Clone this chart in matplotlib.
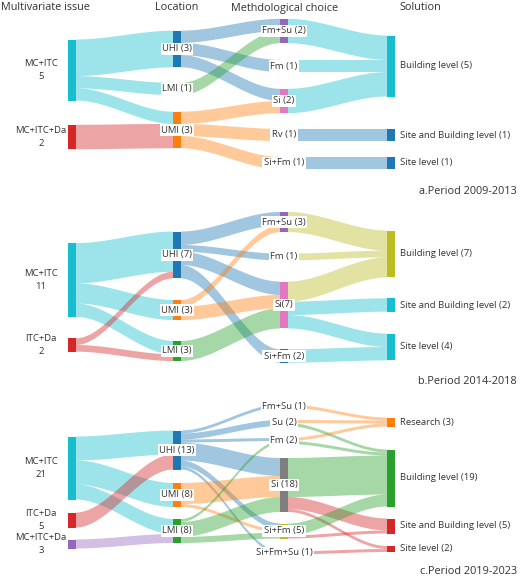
import matplotlib
matplotlib.use("Agg")
import matplotlib.pyplot as plt
import numpy as np

plt.rcParams['font.family'] = ['Open Sans', 'DejaVu Sans']

CYAN, RED, BLUE, GREEN, ORANGE = '#17becf', '#d62728', '#1f77b4', '#2ca02c', '#ff7f0e'
PURPLE, PINK, OLIVE, GRAY = '#9467bd', '#e377c2', '#bcbd22', '#7f7f7f'

# ---------------- data ----------------
# Panel a: 2009-2013
a_sources = ['MC+ITC', 'MC+ITC', 'MC+ITC', 'MC+ITC+Da',
             'UHI', 'UHI', 'UHI', 'LMI', 'UMI', 'UMI', 'UMI',
             'Fm+Su', 'Fm', 'Si', 'Rv', 'Si+Fm']
a_targets = ['UHI', 'LMI', 'UMI', 'UMI',
             'Fm+Su', 'Fm', 'Si', 'Fm+Su', 'Si', 'Rv', 'Si+Fm',
             'Building', 'Building', 'Building', 'SiteBuilding', 'Site']
a_values = [3, 1, 1, 2,
            1, 1, 1, 1, 1, 1, 1,
            2, 1, 2, 1, 1]
a_labels = {'MC+ITC': 'MC+ITC\n5', 'MC+ITC+Da': 'MC+ITC+Da\n2', 'UHI': 'UHI (3)', 'LMI': 'LMI (1)',
            'UMI': 'UMI (3)', 'Fm+Su': 'Fm+Su (2)', 'Fm': 'Fm (1)', 'Si': 'Si (2)', 'Rv': 'Rv (1)',
            'Si+Fm': 'Si+Fm (1)', 'Building': 'Building level (5)',
            'SiteBuilding': 'Site and Building level (1)', 'Site': 'Site level (1)'}

# Panel b: 2014-2018
b_sources = ['MC+ITC', 'MC+ITC', 'MC+ITC', 'ITC+Da', 'ITC+Da',
             'UHI', 'UHI', 'UHI', 'UHI', 'UMI', 'UMI', 'LMI',
             'Fm+Su', 'Fm', 'Si', 'Si', 'Si', 'Si+Fm']
b_targets = ['UHI', 'UMI', 'LMI', 'UHI', 'LMI',
             'Fm+Su', 'Fm', 'Si', 'Si+Fm', 'Fm+Su', 'Si', 'Si',
             'Building', 'Building', 'Building', 'SiteBuilding', 'Site', 'Site']
b_values = [6, 3, 2, 1, 1,
            2, 1, 2, 2, 1, 2, 3,
            3, 1, 3, 2, 2, 2]
b_labels = {'MC+ITC': 'MC+ITC\n11', 'ITC+Da': 'ITC+Da\n2', 'UHI': 'UHI (7)', 'UMI': 'UMI (3)',
            'LMI': 'LMI (3)', 'Fm+Su': 'Fm+Su (3)', 'Fm': 'Fm (1)', 'Si': 'Si(7)', 'Si+Fm': 'Si+Fm (2)',
            'Building': 'Building level (7)', 'SiteBuilding': 'Site and Building level (2)',
            'Site': 'Site level (4)'}

# Panel c: 2019-2023
c_sources = ['MC+ITC', 'MC+ITC', 'MC+ITC', 'ITC+Da', 'MC+ITC+Da',
             'UHI', 'UHI', 'UHI', 'UHI', 'UHI', 'UHI', 'UMI', 'UMI', 'LMI', 'LMI', 'LMI',
             'Fm+Su', 'Su', 'Su', 'Fm', 'Fm', 'Si', 'Si', 'Si', 'Si+Fm', 'Si+Fm', 'Si+Fm+Su']
c_targets = ['UHI', 'UMI', 'LMI', 'UHI', 'LMI',
             'Fm+Su', 'Su', 'Fm', 'Si', 'Si+Fm', 'Si+Fm+Su', 'Si', 'Si+Fm', 'Fm', 'Si', 'Si+Fm',
             'Research', 'Research', 'Building', 'Research', 'Building', 'Building', 'SiteBuilding',
             'Site', 'Building', 'SiteBuilding', 'Site']
c_values = [8, 8, 5, 5, 3,
            1, 2, 1, 6, 2, 1, 7, 1, 1, 5, 2,
            1, 1, 1, 1, 1, 13, 4, 1, 4, 1, 1]
c_labels = {'MC+ITC': 'MC+ITC\n21', 'ITC+Da': 'ITC+Da\n5', 'MC+ITC+Da': 'MC+ITC+Da\n3',
            'UHI': 'UHI (13)', 'UMI': 'UMI (8)', 'LMI': 'LMI (8)', 'Fm+Su': 'Fm+Su (1)',
            'Su': 'Su (2)', 'Fm': 'Fm (2)', 'Si': 'Si (18)', 'Si+Fm': 'Si+Fm (5)',
            'Si+Fm+Su': 'Si+Fm+Su (1)', 'Research': 'Research (3)', 'Building': 'Building level (19)',
            'SiteBuilding': 'Site and Building level (5)', 'Site': 'Site level (2)'}

# ---------------- layout / style ----------------
COLX = [68, 173, 280, 387]
NW = 8
FS = 6.8
panels = [
    dict(src=a_sources, tgt=a_targets, val=a_values, lab=a_labels, scale=12.2,
         title='a.Period 2009-2013', ty=191,
         col={'MC+ITC': 0, 'MC+ITC+Da': 0, 'UHI': 1, 'LMI': 1, 'UMI': 1, 'Fm+Su': 2, 'Fm': 2,
              'Si': 2, 'Rv': 2, 'Si+Fm': 2, 'Building': 3, 'SiteBuilding': 3, 'Site': 3},
         cy={'MC+ITC': 70, 'MC+ITC+Da': 137, 'UHI': 49, 'LMI': 89, 'UMI': 130, 'Fm+Su': 31,
             'Fm': 66, 'Si': 101, 'Rv': 135, 'Si+Fm': 163, 'Building': 66, 'SiteBuilding': 135,
             'Site': 163},
         color={'MC+ITC': CYAN, 'MC+ITC+Da': RED, 'UHI': BLUE, 'LMI': GREEN, 'UMI': ORANGE,
                'Fm+Su': PURPLE, 'Fm': BLUE, 'Si': PINK, 'Rv': BLUE, 'Si+Fm': BLUE,
                'Building': CYAN, 'SiteBuilding': BLUE, 'Site': BLUE}),
    dict(src=b_sources, tgt=b_targets, val=b_values, lab=b_labels, scale=6.7,
         title='b.Period 2014-2018', ty=381,
         col={'MC+ITC': 0, 'ITC+Da': 0, 'UHI': 1, 'UMI': 1, 'LMI': 1, 'Fm+Su': 2, 'Fm': 2,
              'Si': 2, 'Si+Fm': 2, 'Building': 3, 'SiteBuilding': 3, 'Site': 3},
         cy={'MC+ITC': 280, 'ITC+Da': 345, 'UHI': 255, 'UMI': 310, 'LMI': 351, 'Fm+Su': 222,
             'Fm': 257, 'Si': 305, 'Si+Fm': 356, 'Building': 254, 'SiteBuilding': 305, 'Site': 347},
         color={'MC+ITC': CYAN, 'ITC+Da': RED, 'UHI': BLUE, 'UMI': ORANGE, 'LMI': GREEN,
                'Fm+Su': PURPLE, 'Fm': BLUE, 'Si': PINK, 'Si+Fm': BLUE, 'Building': OLIVE,
                'SiteBuilding': CYAN, 'Site': CYAN}),
    dict(src=c_sources, tgt=c_targets, val=c_values, lab=c_labels, scale=3.0,
         title='c.Period 2019-2023', ty=571,
         col={'MC+ITC': 0, 'ITC+Da': 0, 'MC+ITC+Da': 0, 'UHI': 1, 'UMI': 1, 'LMI': 1,
              'Fm+Su': 2, 'Su': 2, 'Fm': 2, 'Si': 2, 'Si+Fm': 2, 'Si+Fm+Su': 2,
              'Research': 3, 'Building': 3, 'SiteBuilding': 3, 'Site': 3},
         cy={'MC+ITC': 468, 'ITC+Da': 520, 'MC+ITC+Da': 544, 'UHI': 450, 'UMI': 495, 'LMI': 531,
             'Fm+Su': 406, 'Su': 423, 'Fm': 441, 'Si': 485, 'Si+Fm': 531, 'Si+Fm+Su': 553,
             'Research': 422, 'Building': 478, 'SiteBuilding': 526, 'Site': 549},
         color={'MC+ITC': CYAN, 'ITC+Da': RED, 'MC+ITC+Da': PURPLE, 'UHI': BLUE, 'UMI': ORANGE,
                'LMI': GREEN, 'Fm+Su': BLUE, 'Su': BLUE, 'Fm': BLUE, 'Si': GRAY, 'Si+Fm': OLIVE,
                'Si+Fm+Su': BLUE, 'Research': ORANGE, 'Building': GREEN, 'SiteBuilding': RED,
                'Site': RED}),
]

fig = plt.figure(figsize=(5.2, 5.77), dpi=100)
ax = fig.add_axes([0, 0, 1, 1])
ax.set_xlim(0, 520)
ax.set_ylim(577, 0)
ax.axis('off')

ax.text(1, 8, 'Multivariate issue', ha='left', va='center', fontsize=7.8, color='#333333')
for x, t in zip([177, 285, 420], ['Location', 'Methdological choice', 'Solution']):
    ax.text(x, 8, t, ha='center', va='center', fontsize=7.8, color='#333333')


def band(x0, y0a, y0b, x1, y1a, y1b, color):
    t = np.linspace(0, 1, 60)
    s = 3 * t ** 2 - 2 * t ** 3
    xs = x0 + (x1 - x0) * t
    top = y0a + (y1a - y0a) * s
    bot = y0b + (y1b - y0b) * s
    ax.fill(np.concatenate([xs, xs[::-1]]), np.concatenate([top, bot[::-1]]),
            color=color, alpha=0.42, lw=0, zorder=1)


for p in panels:
    sc = p['scale']
    nodes = list(p['cy'].keys())
    outv = {n: 0 for n in nodes}
    inv = {n: 0 for n in nodes}
    for s, t, v in zip(p['src'], p['tgt'], p['val']):
        outv[s] += v
        inv[t] += v
    size = {n: max(outv[n], inv[n]) for n in nodes}
    top = {n: p['cy'][n] - size[n] * sc / 2 for n in nodes}
    links = list(zip(p['src'], p['tgt'], p['val']))
    soff, toff = {}, {}
    for n in nodes:
        o = sorted([l for l in links if l[0] == n], key=lambda l: p['cy'][l[1]])
        y = top[n]
        for l in o:
            soff[l] = y
            y += l[2] * sc
        i = sorted([l for l in links if l[1] == n], key=lambda l: p['cy'][l[0]])
        y = top[n]
        for l in i:
            toff[l] = y
            y += l[2] * sc
    for l in links:
        s, t, v = l
        stage = p['col'][s]
        c = p['color'][t] if stage == 2 else p['color'][s]
        x0 = COLX[stage] + NW
        x1 = COLX[p['col'][t]]
        band(x0, soff[l], soff[l] + v * sc, x1, toff[l], toff[l] + v * sc, c)
    for n in nodes:
        cx = COLX[p['col'][n]]
        ax.add_patch(plt.Rectangle((cx, top[n]), NW, size[n] * sc, color=p['color'][n], lw=0, zorder=2))
        col = p['col'][n]
        lab = p['lab'][n]
        if col == 0:
            ax.text(cx - 27, p['cy'][n], lab, ha='center', va='center', fontsize=FS,
                    color='#333333', linespacing=1.5, zorder=3)
        elif col == 3:
            ax.text(cx + NW + 5, p['cy'][n], lab, ha='left', va='center', fontsize=FS,
                    color='#333333', zorder=3)
        else:
            ax.text(cx + NW / 2, p['cy'][n], lab, ha='center', va='center', fontsize=FS,
                    color='#333333', zorder=3,
                    bbox=dict(boxstyle='square,pad=0.15', fc='white', ec='none'))
    ax.text(517, p['ty'], p['title'], ha='right', va='center', fontsize=7.8, color='#333333')

fig.savefig('out.png', dpi=100)
